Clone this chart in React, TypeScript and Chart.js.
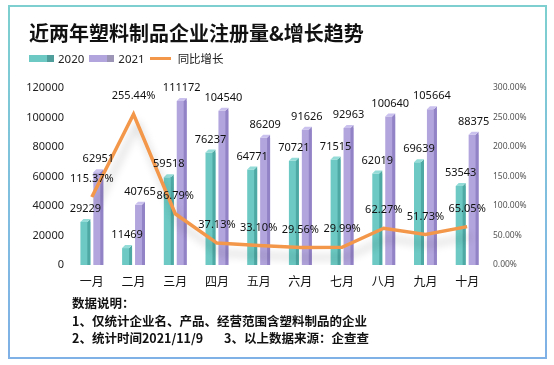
import React, { useEffect, useRef } from 'react';
import { Chart, registerables } from 'chart.js';

Chart.register(...registerables);

const months = ['一月', '二月', '三月', '四月', '五月', '六月', '七月', '八月', '九月', '十月'];
const reg2020 = [29229, 11469, 59518, 76237, 64771, 70721, 71515, 62019, 69639, 53543];
const reg2021 = [62951, 40765, 111172, 104540, 86209, 91626, 92963, 100640, 105664, 88375];
const growth = [115.37, 255.44, 86.79, 37.13, 33.1, 29.56, 29.99, 62.27, 51.73, 65.05];
const countMax = 120000;
const countStep = 20000;
const pctMax = 300;
const pctStep = 50;

const FONT = '"Noto Sans", "Noto Sans CJK SC", sans-serif';
const CJK = '"Noto Sans CJK SC", "Noto Sans", sans-serif';

const TEAL = '#6cc9c3';
const TEAL_SIDE = '#4ea8a4';
const TEAL_CAP = '#93dcd7';
const PURPLE = '#b2a5dd';
const PURPLE_SIDE = '#9282c6';
const PURPLE_CAP = '#cbc1ee';
const ORANGE = '#f3984b';

const bar3d = {
  id: 'bar3d',
  afterDatasetDraw(chart: any, args: any) {
    const ds = chart.data.datasets[args.index];
    if (ds.type !== 'bar') return;
    const ctx = chart.ctx;
    const meta = args.meta;
    const d = 3;
    ctx.save();
    meta.data.forEach((el: any) => {
      const { x, y, base, width } = el.getProps(['x', 'y', 'base', 'width'], true);
      const l = x - width / 2;
      const r = x + width / 2;
      ctx.fillStyle = ds.sideColor;
      ctx.beginPath();
      ctx.moveTo(r - d, y);
      ctx.lineTo(r, y - d);
      ctx.lineTo(r, base);
      ctx.lineTo(r - d, base);
      ctx.closePath();
      ctx.fill();
      ctx.fillStyle = ds.capColor;
      ctx.beginPath();
      ctx.moveTo(l, y);
      ctx.lineTo(l + d, y - d);
      ctx.lineTo(r, y - d);
      ctx.lineTo(r - d, y);
      ctx.closePath();
      ctx.fill();
    });
    ctx.restore();
  },
};

const lineShadow = {
  id: 'lineShadow',
  beforeDatasetDraw(chart: any, args: any) {
    const ds = chart.data.datasets[args.index];
    if (ds.type !== 'line') return;
    const ctx = chart.ctx;
    ctx.save();
    ctx.shadowColor = 'rgba(0,0,0,0.2)';
    ctx.shadowBlur = 8;
    ctx.shadowOffsetX = 4;
    ctx.shadowOffsetY = 10;
  },
  afterDatasetDraw(chart: any, args: any) {
    const ds = chart.data.datasets[args.index];
    if (ds.type !== 'line') return;
    chart.ctx.restore();
  },
};

const valueLabels = {
  id: 'valueLabels',
  afterDatasetsDraw(chart: any) {
    const ctx = chart.ctx;
    ctx.save();
    ctx.fillStyle = '#111';
    ctx.textAlign = 'center';
    ctx.textBaseline = 'middle';
    ctx.font = `11px ${FONT}`;
    chart.data.datasets.forEach((ds: any, i: number) => {
      const meta = chart.getDatasetMeta(i);
      meta.data.forEach((el: any, j: number) => {
        const v = ds.data[j];
        if (ds.type === 'bar') {
          ctx.fillText(String(v), el.x, el.y - 13);
        } else {
          ctx.fillText(v.toFixed(2) + '%', el.x, el.y - 18);
        }
      });
    });
    ctx.restore();
  },
};

function ChartCanvas() {
  const ref = useRef<HTMLCanvasElement | null>(null);
  useEffect(() => {
    if (!ref.current) return;
    const chart = new Chart(ref.current, {
      type: 'bar',
      data: {
        labels: months,
        datasets: [
          {
            type: 'line',
            label: '同比增长',
            data: growth,
            yAxisID: 'y1',
            borderColor: ORANGE,
            borderWidth: 3.5,
            pointRadius: 0,
            tension: 0,
            order: 0,
          } as any,
          {
            type: 'bar',
            label: '2020',
            data: reg2020,
            yAxisID: 'y',
            backgroundColor: TEAL,
            sideColor: TEAL_SIDE,
            capColor: TEAL_CAP,
            categoryPercentage: 0.62,
            barPercentage: 0.77,
            order: 1,
          } as any,
          {
            type: 'bar',
            label: '2021',
            data: reg2021,
            yAxisID: 'y',
            backgroundColor: PURPLE,
            sideColor: PURPLE_SIDE,
            capColor: PURPLE_CAP,
            categoryPercentage: 0.62,
            barPercentage: 0.77,
            order: 1,
          } as any,
        ],
      },
      options: {
        responsive: false,
        animation: false,
        devicePixelRatio: 1,
        layout: { padding: { top: 88, bottom: 70, left: 0, right: 0 } },
        plugins: {
          legend: { display: false },
          title: { display: false },
          tooltip: { enabled: false },
        },
        scales: {
          x: {
            grid: { display: false, drawTicks: false },
            border: { display: false },
            ticks: { color: '#111', font: { family: CJK, size: 12 }, padding: 9 },
            afterFit: (s: any) => {
              s.height = 30;
            },
          },
          y: {
            position: 'left',
            min: 0,
            max: countMax,
            grid: { display: false, drawTicks: false },
            border: { display: false },
            ticks: {
              stepSize: countStep,
              color: '#222',
              font: { family: FONT, size: 11 },
              padding: 7,
              callback: (v: any) => String(v),
            },
            afterFit: (s: any) => {
              s.width = 71;
            },
          },
          y1: {
            position: 'right',
            min: 0,
            max: pctMax,
            grid: { display: false, drawTicks: false },
            border: { display: false },
            ticks: {
              stepSize: pctStep,
              color: '#555',
              font: { family: FONT, size: 8.5 },
              padding: 5,
              callback: (v: any) => Number(v).toFixed(2) + '%',
            },
            afterFit: (s: any) => {
              s.width = 66;
            },
          },
        },
      } as any,
      plugins: [lineShadow, bar3d, valueLabels],
    });
    return () => chart.destroy();
  }, []);
  return (
    <canvas
      ref={ref}
      width={554}
      height={365}
      style={{ position: 'absolute', left: 0, top: 0, width: 554, height: 365 }}
    />
  );
}

export default function App() {
  const legendBox = (light: string, dark: string) => (
    <span style={{ display: 'inline-flex', width: 25, height: 7, marginRight: 4 }}>
      <span style={{ width: 18, background: light }} />
      <span style={{ width: 7, background: dark }} />
    </span>
  );
  return (
    <div
      style={{
        position: 'fixed',
        left: 0,
        top: 0,
        width: 554,
        height: 365,
        background: '#fff',
        overflow: 'hidden',
        fontFamily: CJK,
      }}
    >
      <div
        style={{
          position: 'absolute',
          left: 8,
          top: 5,
          width: 539,
          height: 354,
          background: 'linear-gradient(180deg, #7dd0cf 0%, #80bde0 60%, #7fb0e6 100%)',
        }}
      >
        <div
          style={{
            position: 'absolute',
            left: 2,
            top: 2,
            right: 2,
            bottom: 2,
            background: '#fff',
          }}
        />
      </div>
      <ChartCanvas />
      <div
        style={{
          position: 'absolute',
          left: 29,
          top: 21,
          fontSize: 20,
          lineHeight: '24px',
          fontWeight: 700,
          color: '#111',
          whiteSpace: 'nowrap',
        }}
      >
        近两年塑料制品企业注册量&amp;增长趋势
      </div>
      <div
        style={{
          position: 'absolute',
          left: 29,
          top: 50,
          height: 16,
          display: 'flex',
          alignItems: 'center',
          fontSize: 11.5,
          color: '#222',
          whiteSpace: 'nowrap',
          fontFamily: FONT,
        }}
      >
        {legendBox('#6cc9c3', '#4f9e9c')}
        <span style={{ marginRight: 5 }}>2020</span>
        {legendBox('#b2a5dd', '#9c95b5')}
        <span style={{ marginRight: 5 }}>2021</span>
        <span style={{ display: 'inline-block', width: 21, height: 3, background: ORANGE, marginRight: 7 }} />
        <span style={{ fontFamily: CJK }}>同比增长</span>
      </div>
      <div
        style={{
          position: 'absolute',
          left: 72,
          top: 294,
          width: 420,
          fontSize: 12.5,
          lineHeight: '17.5px',
          fontWeight: 700,
          color: '#111',
          whiteSpace: 'nowrap',
        }}
      >
        <div>数据说明：</div>
        <div>1、仅统计企业名、产品、经营范围含塑料制品的企业</div>
        <div style={{ position: 'relative' }}>
          <span>2、统计时间2021/11/9</span>
          <span style={{ position: 'absolute', left: 152, top: 0 }}>3、以上数据来源：企查查</span>
        </div>
      </div>
    </div>
  );
}
